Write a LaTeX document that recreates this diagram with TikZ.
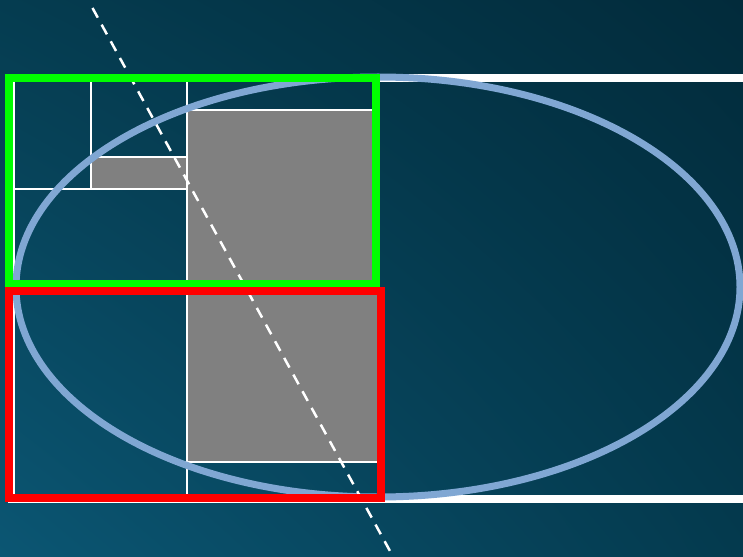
\documentclass[tikz,border=0pt]{standalone}
\usetikzlibrary{shadings}
\definecolor{bgTL}{HTML}{053C50}
\definecolor{bgTR}{HTML}{022B3B}
\definecolor{bgBL}{HTML}{0B5673}
\definecolor{bgBR}{HTML}{043A4E}
\definecolor{ellblue}{HTML}{80A7D3}
\definecolor{boxgray}{HTML}{808080}
\begin{document}
\begin{tikzpicture}[x=1pt,y=-1pt,
  wline/.style={draw=white,line width=2pt},
  wthick/.style={draw=white,line width=7.5pt},
  grayfill/.style={fill=boxgray},
  ellline/.style={draw=ellblue,line width=7pt},
  cutline/.style={draw=white,line width=2.5pt,dash pattern=on 11pt off 8pt},
  greenbox/.style={draw={rgb,255:red,0;green,255;blue,0},line width=8pt},
  redbox/.style={draw={rgb,255:red,255;green,0;blue,0},line width=8pt}]
\useasboundingbox (0,0) rectangle (743,556);
\shade[upper left=bgTL, upper right=bgTR, lower left=bgBL, lower right=bgBR] (0,0) rectangle (743,556);
% thick white frame lines
\draw[wthick] (8,78) -- (743,78);
\draw[wthick] (8,499) -- (743,499);
% gray areas
\fill[grayfill] (187,110) rectangle (378,462);
\fill[grayfill] (91,157) rectangle (187,189);
% thin white subdivision lines
\draw[wline] (14,80) -- (14,497);
\draw[wline] (187,80) -- (187,497);
\draw[wline] (187,110) -- (377,110);
\draw[wline] (187,462) -- (377,462);
\draw[wline] (91,80) -- (91,189);
\draw[wline] (14,189) -- (187,189);
\draw[wline] (91,157) -- (187,157);
% ellipse
\draw[ellline] (378,287) ellipse [x radius=362, y radius=210];
% dashed line
\coordinate (dA) at (92.5,8);
\coordinate (dB) at (396,562);
\draw[cutline] (dA) -- (dB);
% green and red boxes
\draw[greenbox] (9,78) rectangle (376,283.5);
\draw[redbox] (8.5,291) rectangle (381,498);
\end{tikzpicture}
\end{document}
